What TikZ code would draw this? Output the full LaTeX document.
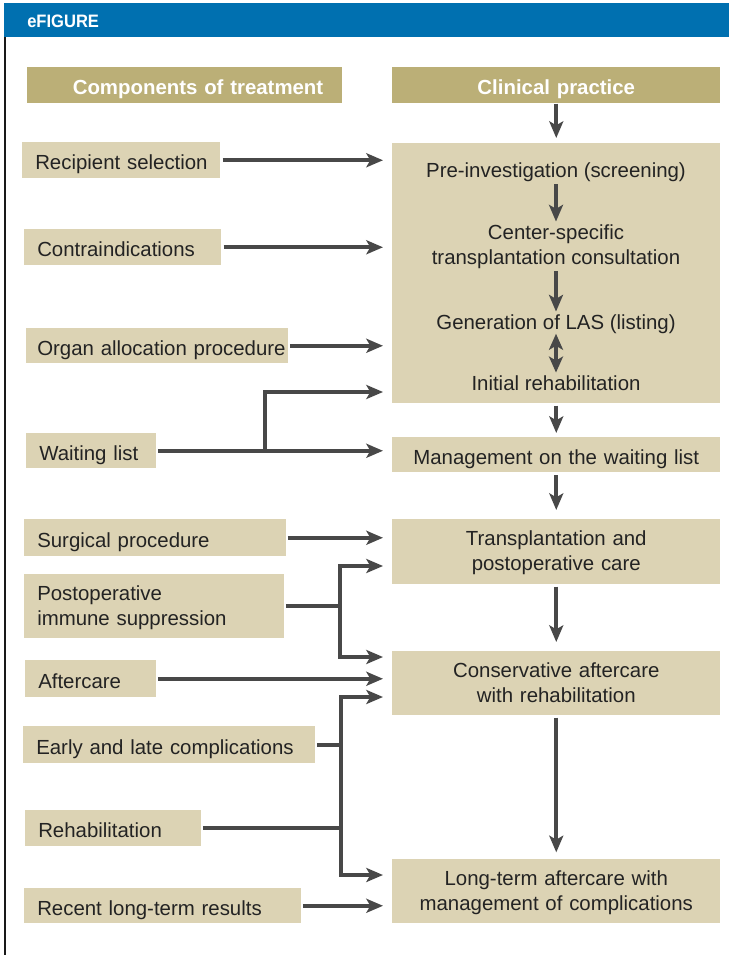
\documentclass[tikz,border=0pt]{standalone}
\usepackage{fontspec}
\setmainfont{Liberation Sans}
\newfontfamily\figfont{Liberation Sans}[FakeStretch=0.92]
\usetikzlibrary{arrows.meta}
\definecolor{figblue}{RGB}{0,112,176}
\definecolor{headkhaki}{RGB}{187,175,119}
\definecolor{boxbeige}{RGB}{220,211,180}
\definecolor{linegray}{RGB}{72,72,72}
\definecolor{textdark}{RGB}{35,35,35}
\newcommand{\diagfont}{\fontsize{15.3}{18.8}\selectfont}
\tikzset{
  lbox/.style={fill=boxbeige, text=textdark, anchor=north west, align=left,
    inner xsep=0pt, inner ysep=0pt, text width=#1*0.75pt, text height=14.2pt, text depth=0pt,
    execute at begin node={\leftskip=9.75pt}, minimum height=36*0.75pt},
  rbox/.style={fill=boxbeige, text=textdark, anchor=north west, align=center,
    inner xsep=0pt, inner ysep=0pt, text width=328*0.75pt, text height=14.2pt, text depth=0pt,
    minimum height=#1*0.75pt},
  hbox/.style={fill=headkhaki, text=white, font=\diagfont\bfseries, anchor=north west,
    inner ysep=0pt, text height=14.2pt, text depth=0pt, minimum height=36*0.75pt},
  twoline/.style={text height=13pt, text depth=22pt},
  itext/.style={text=textdark, align=center, inner sep=2pt},
  conn/.style={draw=linegray, line width=2.7pt},
  arr/.style={conn, -{Stealth[length=12.5pt,width=10.5pt,inset=3pt]}, shorten >=6.75pt}
}

\begin{document}
\begin{tikzpicture}[x=0.75pt, y=-0.75pt, font=\diagfont]
			\useasboundingbox (0,0) rectangle (729,955);
			%frame
			\fill[figblue] (4,3) rectangle (729,37);
			\draw[black!90, line width=1.5pt] (5,37) -- (5,955);
			\node[text=white, font=\figfont\fontsize{13.5}{14}\selectfont\bfseries, anchor=west, inner sep=0pt] (efig) at (27,21) {eFIGURE};
			%headers
			\node[hbox, align=right, inner xsep=19*0.75pt, text width=277*0.75pt] (comp) at (27,67) {Components of treatment};
			\node[hbox, align=center, inner xsep=0pt, text width=328*0.75pt] (clin) at (392,67) {Clinical practice};
			%components of treatment
			\node[lbox=198] (recip) at (22,142) {Recipient selection};
			\node[lbox=197] (contra) at (24,229) {Contraindications};
			\node[lbox=262, minimum height=35*0.75pt, execute at begin node={\leftskip=8.25pt}] (organ) at (26,328) {Organ allocation procedure};
			\node[lbox=130, minimum height=35*0.75pt] (wait) at (26,433) {Waiting list};
			\node[lbox=262, minimum height=37*0.75pt] (surg) at (24,519) {Surgical procedure};
			\node[lbox=260, twoline, minimum height=64*0.75pt] (immun) at (24,574) {Postoperative\\immune suppression};
			\node[lbox=131, minimum height=37*0.75pt] (after) at (25,660) {Aftercare};
			\node[lbox=292, minimum height=37*0.75pt] (compl) at (23,726) {Early and late complications};
			\node[lbox=176] (rehab) at (25,810) {Rehabilitation};
			\node[lbox=277, minimum height=35*0.75pt] (recent) at (24,888) {Recent long-term results};
			%clinical practice
			\node[rbox=260] (screen) at (392,143) {};
			\node[itext] (preinv) at (556,172) {Pre-investigation (screening)};
			\node[itext] (center) at (556,246.5) {Center-specific\\transplantation consultation};
			\node[itext] (las) at (556,324) {Generation of LAS (listing)};
			\node[itext] (initreh) at (556,383) {Initial rehabilitation};
			\node[rbox=35] (mgmt) at (392,437) {Management on the waiting list};
			\node[rbox=65, twoline] (trans) at (392,519) {Transplantation and\\postoperative care};
			\node[rbox=64, twoline] (cons) at (392,651) {Conservative aftercare\\with rehabilitation};
			\node[rbox=64, twoline] (longt) at (392,859) {Long-term aftercare with\\management of complications};
			%arrows right column
			\draw[arr, shorten >=3.75pt] (clin) -- (screen);
			\draw[arr, shorten >=0pt] (preinv) -- (center);
			\draw[arr, shorten >=0pt] (center) -- (las);
			\draw[conn, shorten <=-2pt, {Stealth[length=12pt,width=10.5pt,inset=3pt]}-{Stealth[length=12pt,width=10.5pt,inset=3pt]}] (las) -- (initreh);
			\draw[arr, shorten <=1.5pt, shorten >=3pt] (screen) -- (mgmt);
			\draw[arr, shorten <=2pt] (mgmt) -- (trans);
			\draw[arr, shorten <=1.5pt] (trans) -- (cons);
			\draw[arr, shorten <=1.5pt, shorten >=5pt] (cons) -- (longt);
			%arrows left to right
			\draw[arr, shorten <=1.5pt] (recip) -- (recip -| screen.west);
			\draw[arr, shorten <=1.5pt] (contra) -- (contra -| screen.west);
			\draw[arr, shorten <=1pt] (organ) -- (organ -| screen.west);
			\draw[arr, shorten <=1pt] (wait) -- (wait -| mgmt.west);
			\coordinate (wj) at (265,392);
			\draw[arr] (wait -| wj) -- (wj) -- (wj -| screen.west);
			\draw[arr, shorten <=1pt] (surg) -- (surg -| trans.west);
			\coordinate (pjt) at (340,566);
			\coordinate (pjb) at (340,657);
			\draw[conn, shorten <=1pt] (immun) -- (immun -| pjt);
			\draw[arr] (immun -| pjt) |- (trans.west |- pjt);
			\draw[arr] (immun -| pjt) |- (cons.west |- pjb);
			\draw[arr, shorten <=1pt] (after) -- (after -| cons.west);
			\coordinate (ejt) at (341,697);
			\coordinate (ejb) at (341,875);
			\draw[conn, shorten <=1pt] (compl) -- (compl -| ejt);
			\draw[conn, shorten <=1pt] (rehab) -- (rehab -| ejt);
			\draw[arr] (ejb) -- (ejt) -- (cons.west |- ejt);
			\draw[arr] (ejt) -- (ejb) -- (longt.west |- ejb);
			\draw[arr, shorten <=1pt] (recent) -- (recent -| longt.west);
		\end{tikzpicture}
\end{document}
